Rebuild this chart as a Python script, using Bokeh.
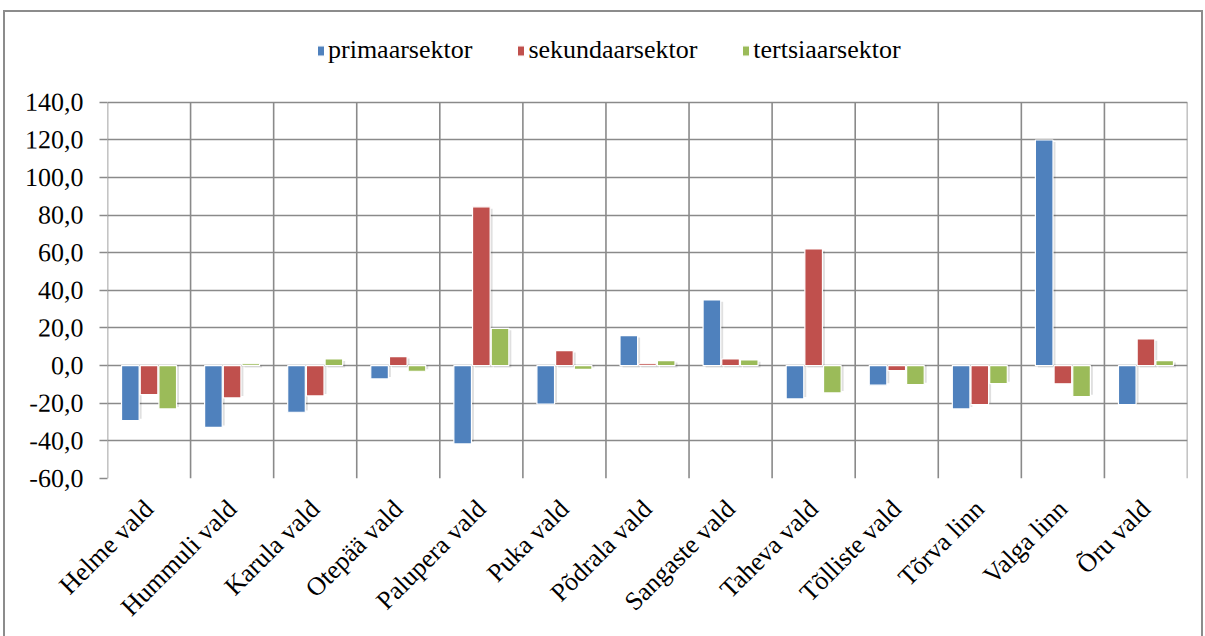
import math
import numpy as np
from bokeh.plotting import figure
from bokeh.models import ColumnDataSource, FixedTicker, Range1d, Legend, LegendItem
from bokeh.embed import file_html
from bokeh.resources import INLINE

categories = ["Helme vald", "Hummuli vald", "Karula vald", "Otepää vald", "Palupera vald",
              "Puka vald", "Põdrala vald", "Sangaste vald", "Taheva vald", "Tõlliste vald",
              "Tõrva linn", "Valga linn", "Õru vald"]
primaarsektor = [-29.2, -32.8, -24.8, -7.1, -41.6, -20.4, 15.9, 34.9, -17.7, -10.4, -23.0, 119.9, -20.7]
sekundaarsektor = [-15.4, -17.2, -16.1, 4.8, 84.4, 8.0, 1.0, 3.5, 62.0, -2.7, -20.7, -9.7, 14.2]
tertsiaarsektor = [-23.0, 1.0, 3.5, -3.0, 19.8, -2.0, 2.7, 3.0, -14.5, -10.1, -9.6, -16.5, 2.7]
series_names = ["primaarsektor", "sekundaarsektor", "tertsiaarsektor"]
series_values = [primaarsektor, sekundaarsektor, tertsiaarsektor]
series_colors = ["#4F81BD", "#C0504D", "#9BBB59"]
y_ticks = [-60, -40, -20, 0, 20, 40, 60, 80, 100, 120, 140]
y_tick_labels = ["-60,0", "-40,0", "-20,0", "0,0", "20,0", "40,0", "60,0", "80,0",
                 "100,0", "120,0", "140,0"]

FONT = "Liberation Serif"
GRID = "#8a8a8a"
BORDER = "#8c8c8c"

W, H = 1205, 636
TOP, BOTTOM, LEFT, RIGHT = 20, 158, 107, 18
PLOT_TOP_PX = 101.7  # pixel row of the top value grid line
ymin, ymax = y_ticks[0], y_ticks[-1]
px_per_unit = (H - BOTTOM - PLOT_TOP_PX) / (ymax - ymin)
y_end = ymin + (H - BOTTOM - TOP) / px_per_unit

n = len(categories)
xc = np.arange(1, n + 1)

g = f"linear-gradient({BORDER},{BORDER})"
frame_css = {
    "background-image": f"{g}, {g}, {g}",
    "background-repeat": "no-repeat",
    "background-position": "3px 10px, 3px 10px, 1201px 10px",
    "background-size": "2px 700px, 1200px 2px, 2px 700px",
    "background-color": "white",
}

p = figure(width=W, height=H, output_backend="svg", toolbar_location=None,
           x_range=Range1d(0.5, n + 0.5), y_range=Range1d(ymin, y_end),
           min_border_left=LEFT, min_border_right=RIGHT, min_border_top=TOP,
           min_border_bottom=BOTTOM, styles=frame_css)
p.outline_line_color = None
p.background_fill_color = None
p.border_fill_color = None
p.xgrid.visible = False

# vertical separators between categories (between bottom and top value ticks)
bounds = np.arange(0.5, n + 1, 1.0)
p.segment(x0=bounds, x1=bounds, y0=[ymin] * len(bounds), y1=[ymax] * len(bounds),
          line_color=GRID, line_width=1.6, level="underlay")

bar_w = 0.212
step = 0.225
items = []
for k, (name, vals, col) in enumerate(zip(series_names, series_values, series_colors)):
    src = ColumnDataSource(dict(x=xc + (k - 1) * step, top=vals))
    sh = ColumnDataSource(dict(x=xc + (k - 1) * step + 0.03,
                               top=np.array(vals) - 1.0 * np.sign(vals),
                               bottom=[-1.0 if v > 0 else 0 for v in vals]))
    p.vbar(x="x", top="top", bottom="bottom", width=bar_w, source=sh, fill_color="#000000",
           fill_alpha=0.12, line_color=None)
    r = p.vbar(x="x", top="top", bottom=0, width=bar_w, source=src, fill_color=col,
               line_color="white", line_width=1.2)
    items.append(LegendItem(label=name, renderers=[r]))

legend = Legend(items=items, orientation="horizontal", location=(209, 413),
                label_text_font=FONT, label_text_font_size="26px", label_standoff=3,
                label_text_color="black",
                glyph_width=9, glyph_height=13, spacing=44, padding=4, margin=0,
                border_line_color=None, background_fill_alpha=0)
p.add_layout(legend, "center")

p.ygrid.ticker = FixedTicker(ticks=y_ticks)
p.ygrid.grid_line_color = GRID
p.ygrid.grid_line_width = 1.6

p.yaxis.ticker = FixedTicker(ticks=y_ticks)
p.yaxis.major_label_overrides = {t: l for t, l in zip(y_ticks, y_tick_labels)}
p.yaxis.axis_line_color = None
p.yaxis.major_tick_line_color = GRID
p.yaxis.major_tick_line_width = 1.6
p.yaxis.major_tick_out = 8
p.yaxis.major_tick_in = 0
p.yaxis.minor_tick_line_color = None
p.yaxis.major_label_standoff = 16
p.yaxis.major_label_orientation = 0.001
p.yaxis.major_label_text_font = FONT
p.yaxis.major_label_text_font_size = "26px"
p.yaxis.major_label_text_color = "black"

p.xaxis.ticker = FixedTicker(ticks=list(xc))
p.xaxis.major_label_overrides = {int(i): c for i, c in zip(xc, categories)}
p.xaxis.axis_line_color = None
p.xaxis.major_tick_line_color = None
p.xaxis.minor_tick_line_color = None
p.xaxis.major_label_orientation = math.pi / 4
p.xaxis.major_label_standoff = 20
p.xaxis.major_label_text_font = FONT
p.xaxis.major_label_text_font_size = "26px"
p.xaxis.major_label_text_color = "black"

open("out.html", "w").write(file_html(p, INLINE))
